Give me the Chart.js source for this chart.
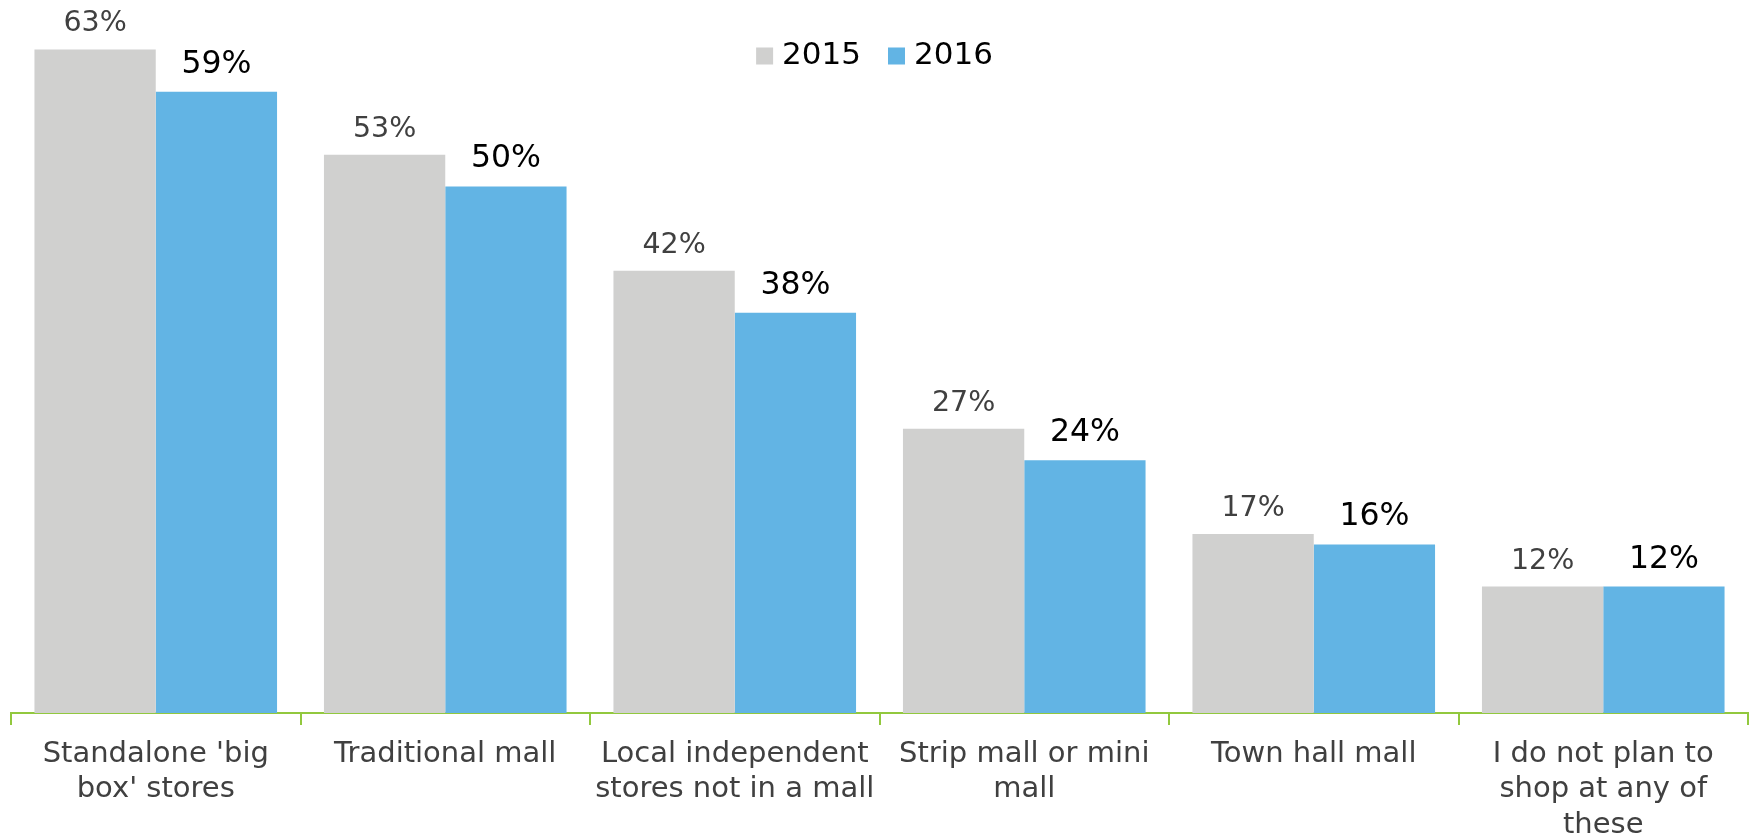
<!DOCTYPE html>
<html>
<head>
<meta charset="utf-8">
<script src="https://cdn.jsdelivr.net/npm/chart.js@4"></script>
<style>
  html, body { margin: 0; padding: 0; background: #fff; }
  #wrap { width: 1754px; height: 836px; }
</style>
</head>
<body>
<div id="wrap"><canvas id="shopChart"></canvas></div>
<script>
const categories = [
    ["Standalone 'big", "box' stores"],
    ["Traditional mall"],
    ["Local independent", "stores not in a mall"],
    ["Strip mall or mini", "mall"],
    ["Town hall mall"],
    ["I do not plan to", "shop at any of", "these"]
];
const values2015 = [63, 53, 42, 27, 17, 12];
const values2016 = [59, 50, 38, 24, 16, 12];
const seriesNames = ['2015', '2016'];

const FONT = "'DejaVu Sans', Verdana, sans-serif";

// value labels above each bar
const barLabels = {
    id: 'barLabels',
    afterDatasetsDraw(chart) {
        const ctx = chart.ctx;
        ctx.save();
        ctx.textAlign = 'center';
        ctx.textBaseline = 'alphabetic';
        chart.data.datasets.forEach((ds, i) => {
            const meta = chart.getDatasetMeta(i);
            ctx.font = i === 0 ? '28.5px ' + FONT : '31.5px ' + FONT;
            ctx.fillStyle = i === 0 ? '#404040' : '#000000';
            meta.data.forEach((bar, j) => {
                ctx.fillText(ds.data[j] + '%', bar.x, bar.y - (i === 0 ? 18 : 19));
            });
        });
        ctx.restore();
    }
};

// legend drawn at the top middle, over the plot
const topLegend = {
    id: 'topLegend',
    afterDraw(chart) {
        const ctx = chart.ctx;
        ctx.save();
        ctx.font = '31px ' + FONT;
        ctx.textBaseline = 'middle';
        ctx.textAlign = 'left';
        const box = 17, gapBox = 9, gapItem = 27;
        let total = 0;
        const widths = seriesNames.map(n => ctx.measureText(n).width);
        widths.forEach(w => { total += box + gapBox + w; });
        total += gapItem * (seriesNames.length - 1);
        const area = chart.chartArea;
        let x = (area.left + area.right) / 2 - 5 - total / 2;
        const y = 55;
        seriesNames.forEach((n, i) => {
            ctx.fillStyle = chart.data.datasets[i].backgroundColor;
            ctx.fillRect(x, y - box / 2 + 1, box, box);
            x += box + gapBox;
            ctx.fillStyle = '#000000';
            ctx.fillText(n, x, y + 1);
            x += widths[i] + gapItem;
        });
        ctx.restore();
    }
};

new Chart(document.getElementById('shopChart').getContext('2d'), {
    type: 'bar',
    data: {
        labels: categories,
        datasets: [{
            label: seriesNames[0],
            data: values2015,
            backgroundColor: '#D0D0CF'
        }, {
            label: seriesNames[1],
            data: values2016,
            backgroundColor: '#62B4E4'
        }]
    },
    options: {
        responsive: true,
        maintainAspectRatio: false,
        animation: false,
        layout: { padding: { left: 11, right: 6, top: 0, bottom: 0 } },
        datasets: {
            bar: { barPercentage: 1, categoryPercentage: 0.838 }
        },
        plugins: {
            legend: { display: false },
            tooltip: { enabled: false }
        },
        scales: {
            x: {
                grid: {
                    offset: true,
                    drawOnChartArea: false,
                    color: '#92C83E',
                    tickLength: 12,
                    lineWidth: 2
                },
                border: { color: '#92C83E', width: 2 },
                ticks: {
                    color: '#404040',
                    padding: 11,
                    maxRotation: 0,
                    autoSkip: false,
                    font: { family: FONT, size: 29, lineHeight: 1.24 }
                },
                afterFit(scale) { scale.height = 123; }
            },
            y: {
                display: false,
                min: 0,
                max: 67.7
            }
        }
    },
    plugins: [barLabels, topLegend]
});
</script>
</body>
</html>
